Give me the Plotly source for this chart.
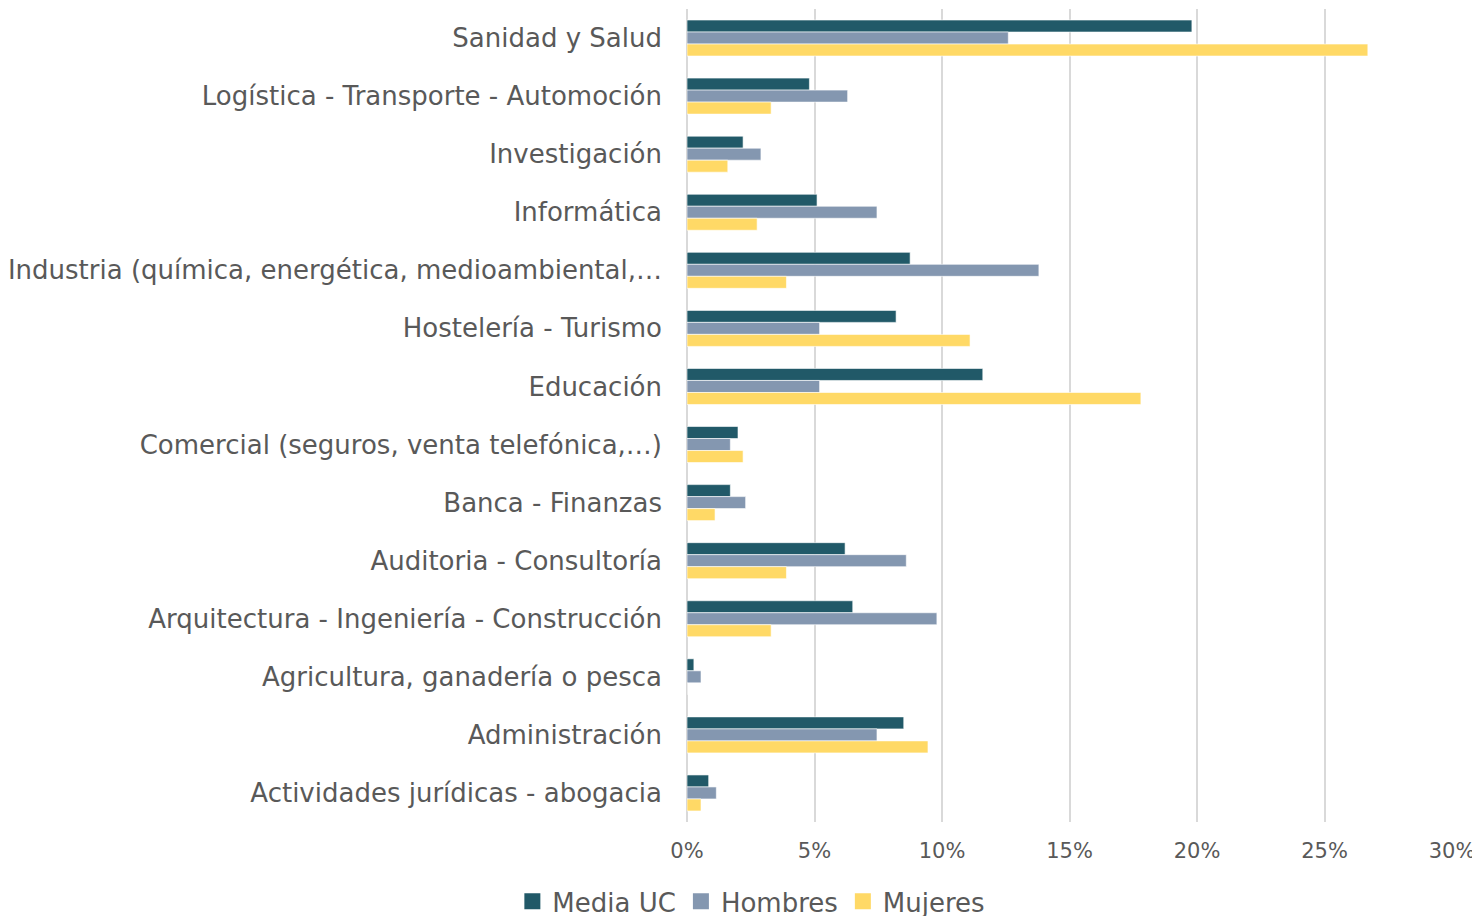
import plotly.graph_objects as go

categories = [
    "Sanidad y Salud",
    "Logística - Transporte - Automoción",
    "Investigación",
    "Informática",
    "Industria (química, energética, medioambiental,…",
    "Hostelería - Turismo",
    "Educación",
    "Comercial (seguros, venta telefónica,…)",
    "Banca - Finanzas",
    "Auditoria - Consultoría",
    "Arquitectura - Ingeniería - Construcción",
    "Agricultura, ganadería o pesca",
    "Administración",
    "Actividades jurídicas - abogacia",
]
media_uc = [19.8, 4.8, 2.2, 5.1, 8.75, 8.2, 11.6, 2.0, 1.7, 6.2, 6.5, 0.27, 8.5, 0.85]
hombres = [12.6, 6.3, 2.9, 7.45, 13.8, 5.2, 5.2, 1.7, 2.3, 8.6, 9.8, 0.55, 7.45, 1.15]
mujeres = [26.7, 3.3, 1.6, 2.75, 3.9, 11.1, 17.8, 2.2, 1.1, 3.9, 3.3, 0.0, 9.45, 0.55]
x_ticks = [0, 5, 10, 15, 20, 25, 30]

series = [("Media UC", media_uc, "#215968"), ("Hombres", hombres, "#8497B0"), ("Mujeres", mujeres, "#FFD966")]

fig = go.Figure()
for name, vals, col in series:
    fig.add_trace(go.Bar(
        y=categories, x=vals, name=name, orientation="h", legendgroup=name,
        showlegend=False,
        marker=dict(color=col, line=dict(color="rgba(255,255,255,0.6)", width=1)),
    ))
# legend proxies with larger square symbols
for name, vals, col in series:
    fig.add_trace(go.Scatter(
        x=[None], y=[None], mode="markers", name=name, legendgroup=name,
        marker=dict(symbol="square", size=16, color=col),
        showlegend=True, hoverinfo="skip",
    ))

fig.update_layout(
    width=1472, height=908,
    barmode="group", bargap=0.38, bargroupgap=0,
    plot_bgcolor="white", paper_bgcolor="white",
    margin=dict(l=679, r=28, t=1, b=94),
    font=dict(family="DejaVu Sans, Verdana, sans-serif", color="#595959"),
    legend=dict(orientation="h", x=0.505, xanchor="center", xref="container",
                y=0.016, yanchor="middle", yref="container",
                font=dict(size=26, color="#595959"),
                itemwidth=30, tracegroupgap=0),
    showlegend=True,
)
fig.update_xaxes(
    range=[0, 30], tickvals=x_ticks, ticktext=[f"{v}%" for v in x_ticks],
    showgrid=True, gridcolor="#D9D9D9", gridwidth=2,
    zeroline=True, zerolinecolor="#D9D9D9", zerolinewidth=2,
    tickfont=dict(size=21, color="#595959"),
    ticks="", showline=False, ticklabelstandoff=14,
)
fig.update_yaxes(
    autorange="reversed", type="category",
    tickfont=dict(size=26, color="#595959"),
    ticks="", showline=False, ticklabelstandoff=24,
)
fig.write_html("out.html")
